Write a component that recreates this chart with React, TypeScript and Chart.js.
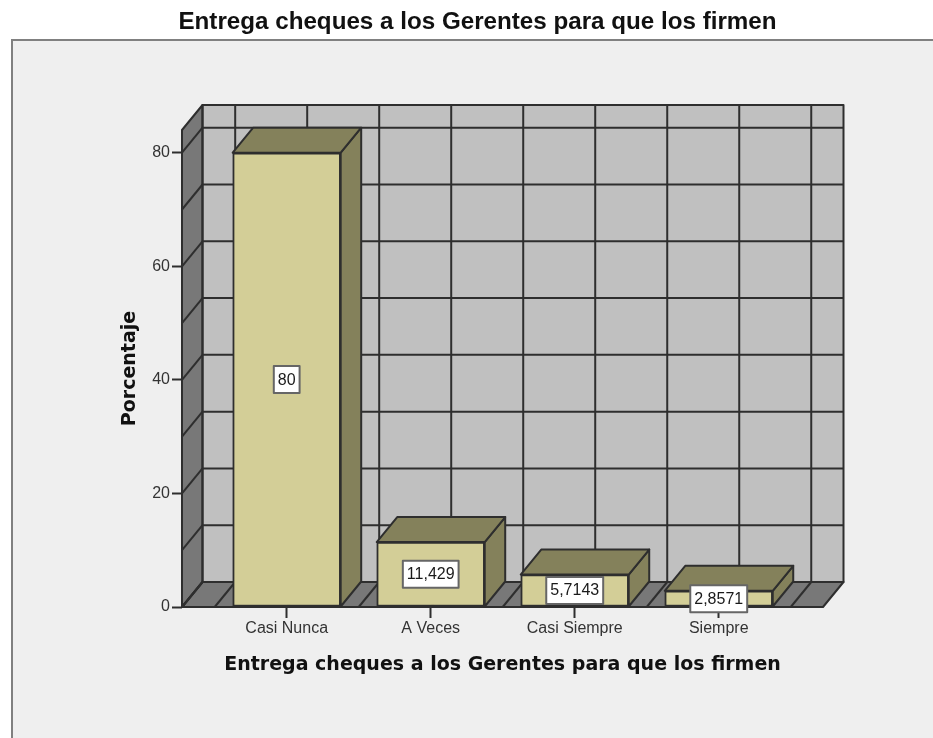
import React, { useEffect, useRef } from "react";
import { Chart, registerables } from "chart.js";

Chart.register(...registerables);

const categories = ["Casi Nunca", "A Veces", "Casi Siempre", "Siempre"];
const percentages = [80, 11.429, 5.7143, 2.8571];
const chartTitle = "Entrega cheques a los Gerentes para que los firmen";
const xAxisTitle = "Entrega cheques a los Gerentes para que los firmen";
const yAxisTitle = "Porcentaje";
const yGridValues = [0, 10, 20, 30, 40, 50, 60, 70, 80];
const xGridValues = [-0.5, 0, 0.5, 1, 1.5, 2, 2.5, 3, 3.5];

const DEPTH_X = 20.5;
const DEPTH_Y = 25;
const LINE = "#2e2e2e";

function poly(ctx: CanvasRenderingContext2D, pts: number[][], fill: string | null, stroke: string | null, lw = 2) {
  ctx.beginPath();
  pts.forEach((p, i) => (i ? ctx.lineTo(p[0], p[1]) : ctx.moveTo(p[0], p[1])));
  ctx.closePath();
  if (fill) {
    ctx.fillStyle = fill;
    ctx.fill();
  }
  if (stroke) {
    ctx.strokeStyle = stroke;
    ctx.lineWidth = lw;
    ctx.lineJoin = "round";
    ctx.stroke();
  }
}

function seg(ctx: CanvasRenderingContext2D, x0: number, y0: number, x1: number, y1: number, lw = 2, color = LINE) {
  ctx.beginPath();
  ctx.moveTo(x0, y0);
  ctx.lineTo(x1, y1);
  ctx.strokeStyle = color;
  ctx.lineWidth = lw;
  ctx.stroke();
}

const panelPlugin = {
  id: "panel",
  beforeDraw(chart: any) {
    const { ctx, width, height } = chart;
    ctx.save();
    ctx.fillStyle = "#efefef";
    ctx.fillRect(12, 40, width - 12, height - 40);
    ctx.strokeStyle = "#808080";
    ctx.lineWidth = 2;
    ctx.beginPath();
    ctx.moveTo(12, height);
    ctx.lineTo(12, 40);
    ctx.lineTo(width, 40);
    ctx.stroke();
    ctx.restore();
  },
};

const wallsPlugin = {
  id: "walls",
  beforeDatasetsDraw(chart: any) {
    const { ctx, chartArea: a, scales } = chart;
    const { left: l, right: r, top: t, bottom: b } = a;
    const dx = DEPTH_X;
    const dy = DEPTH_Y;
    ctx.save();
    poly(ctx, [[l + dx, t - dy], [r + dx, t - dy], [r + dx, b - dy], [l + dx, b - dy]], "#c0c0c0", null);
    poly(ctx, [[l, t], [l + dx, t - dy], [l + dx, b - dy], [l, b]], "#787878", null);
    poly(ctx, [[l, b], [l + dx, b - dy], [r + dx, b - dy], [r, b]], "#787878", null);
    yGridValues.forEach((v) => {
      const y = scales.y.getPixelForValue(v);
      seg(ctx, l, y, l + dx, y - dy);
      seg(ctx, l + dx, y - dy, r + dx, y - dy);
    });
    xGridValues.forEach((v) => {
      const x = scales.x.getPixelForValue(v);
      seg(ctx, x, b, x + dx, b - dy);
      seg(ctx, x + dx, b - dy, x + dx, t - dy);
    });
    poly(ctx, [[l, t], [l + dx, t - dy], [l + dx, b - dy], [l, b]], null, LINE);
    poly(ctx, [[l + dx, t - dy], [r + dx, t - dy], [r + dx, b - dy], [l + dx, b - dy]], null, LINE);
    poly(ctx, [[l, b], [l + dx, b - dy], [r + dx, b - dy], [r, b]], null, LINE);
    ctx.restore();
  },
  afterDatasetsDraw(chart: any) {
    const { ctx } = chart;
    const dx = DEPTH_X;
    const dy = DEPTH_Y;
    const bars = chart.getDatasetMeta(0).data;
    ctx.save();
    bars.forEach((bar: any) => {
      const x0 = bar.x - bar.width / 2;
      const x1 = bar.x + bar.width / 2;
      const y = bar.y;
      const base = bar.base;
      poly(ctx, [[x1, y], [x1 + dx, y - dy], [x1 + dx, base - dy], [x1, base]], "#84815b", LINE);
      poly(ctx, [[x0, y], [x0 + dx, y - dy], [x1 + dx, y - dy], [x1, y]], "#84815b", LINE);
    });
    ctx.font = '16px "Liberation Sans"';
    ctx.textAlign = "center";
    ctx.textBaseline = "middle";
    bars.forEach((bar: any, i: number) => {
      const text = String(percentages[i]).replace(".", ",");
      const w = ctx.measureText(text).width + 8;
      const h = 27;
      const cy = (bar.y + bar.base) / 2;
      ctx.fillStyle = "#ffffff";
      ctx.fillRect(bar.x - w / 2, cy - h / 2, w, h);
      ctx.strokeStyle = "#666666";
      ctx.lineWidth = 2;
      ctx.strokeRect(bar.x - w / 2, cy - h / 2, w, h);
      ctx.fillStyle = "#1a1a1a";
      ctx.fillText(text, bar.x, cy + 0.5);
    });
    ctx.restore();
  },
};

export default function App() {
  const ref = useRef<HTMLCanvasElement>(null);
  useEffect(() => {
    const chart = new Chart(ref.current as HTMLCanvasElement, {
      type: "bar",
      data: {
        datasets: [
          {
            label: yAxisTitle,
            data: percentages.map((v, i) => ({ x: i, y: v })),
            backgroundColor: "#d3ce97",
            borderColor: LINE,
            borderWidth: 2,
            borderSkipped: false,
            barThickness: 108,
          },
        ],
      },
      options: {
        responsive: false,
        animation: false,
        layout: { padding: { left: 22, right: 0, top: 0, bottom: 0 } },
        plugins: {
          legend: { display: false },
          tooltip: { enabled: false },
          title: {
            display: true,
            text: chartTitle,
            color: "#111111",
            font: { family: '"Liberation Sans"', size: 24.2, weight: "bold" },
            padding: { top: 8, bottom: 92.96 },
          },
        },
        scales: {
          x: {
            type: "linear",
            offset: false,
            min: -0.727,
            max: 3.724,
            afterFit: (s: any) => {
              s.height = 131;
            },
            afterBuildTicks: (s: any) => {
              s.ticks = categories.map((_, i) => ({ value: i }));
            },
            grid: { offset: false, drawOnChartArea: false, tickLength: 11, tickColor: LINE, tickWidth: 2 },
            border: { display: false },
            ticks: {
              autoSkip: false,
              maxRotation: 0,
              padding: 1,
              color: "#333333",
              font: { family: '"Liberation Sans"', size: 16 },
              callback: (v: any) => categories[v],
            },
            title: {
              display: true,
              text: xAxisTitle,
              color: "#111111",
              font: { family: '"DejaVu Sans"', size: 19, weight: "bold" },
              padding: { top: 0, bottom: 62 },
            },
          },
          y: {
            type: "linear",
            min: 0,
            max: 84,
            afterFit: (s: any) => {
              s.width = 160;
            },
            grid: { drawOnChartArea: false, tickLength: 10, tickColor: LINE, tickWidth: 2 },
            border: { display: false },
            ticks: {
              stepSize: 20,
              includeBounds: false,
              padding: 2,
              color: "#333333",
              font: { family: '"Liberation Sans"', size: 16 },
            },
            title: {
              display: true,
              text: yAxisTitle,
              color: "#111111",
              font: { family: '"DejaVu Sans"', size: 19, weight: "bold" },
              padding: { top: 97, bottom: 0 },
            },
          },
          yRightGap: {
            type: "linear",
            position: "right",
            display: true,
            afterFit: (s: any) => {
              s.width = 110;
            },
            grid: { display: false },
            border: { display: false },
            ticks: { display: false },
          },
        },
      },
      plugins: [panelPlugin, wallsPlugin],
    } as any);
    return () => chart.destroy();
  }, []);
  return (
    <div style={{ position: "absolute", left: 0, top: 0, width: 933, height: 738 }}>
      <canvas ref={ref} width={933} height={738} style={{ display: "block", filter: "blur(0.35px)" }} />
    </div>
  );
}
